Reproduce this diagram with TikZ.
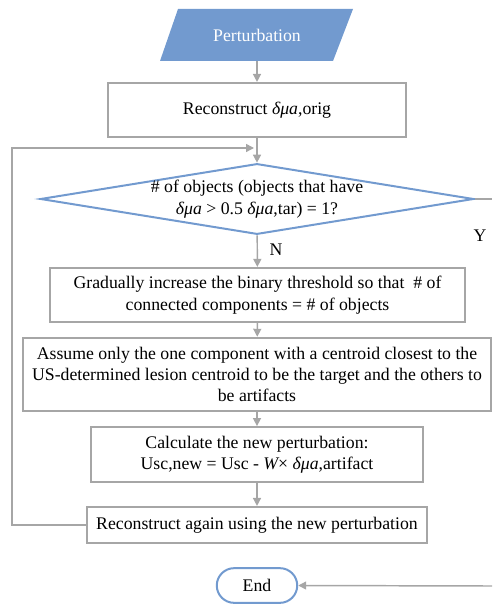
\documentclass[tikz,border=0pt]{standalone}
\usepackage{fontspec}
\setmainfont{Liberation Serif}
\usetikzlibrary{shapes.geometric,shapes.misc,arrows.meta}
\definecolor{boxgray}{HTML}{A6A6A6}
\definecolor{flowblue}{HTML}{729ACF}
\begin{document}
\begin{tikzpicture}[x=0.75pt,y=-0.75pt,
  font=\fontsize{13.3}{16}\selectfont,
  box/.style={draw=boxgray,line width=1.6pt,align=center,inner sep=2pt},
  decision/.style={diamond,aspect=6.1,draw=flowblue,line width=1.5pt,align=center,
    inner sep=-3pt,minimum width=325pt,minimum height=53pt},
  inbox/.style={text=white,minimum width=130pt,minimum height=39pt,inner sep=0pt},
  endbox/.style={rounded rectangle,draw=flowblue,line width=1.5pt,
    minimum width=67pt,minimum height=26pt},
  arr/.style={draw=boxgray,line width=1.1pt,-{Triangle[length=6pt,width=6pt]}},
  line/.style={draw=boxgray,line width=1.1pt},
  ]
\useasboundingbox (0,0) rectangle (492,605);
% input parallelogram
\fill[flowblue] (160,61) -- (178,9) -- (353,9) -- (333,61) -- cycle;
\node[inbox] (pert) at (257,35) {Perturbation};
\node[box,minimum width=223pt,minimum height=40.5pt] (rec) at (257,110)
  {Reconstruct {\itshape δμa},orig};
\node[decision] (obj) at (257,199)
  {\# of objects (objects that have\\ {\itshape δμa} > 0.5 {\itshape δμa},tar) = 1?};
\node[box,minimum width=311pt,minimum height=40.5pt] (thr) at (257.5,295)
  {Gradually increase the binary threshold so that \ \# of\\ connected components = \# of objects};
\node[box,minimum width=351pt,minimum height=55pt] (asm) at (257,374.5)
  {Assume only the one component with a centroid closest to the\\
   US-determined lesion centroid to be the target and the others to\\ be artifacts};
\node[box,minimum width=249pt,minimum height=41pt] (calc) at (257,454.5)
  {Calculate the new perturbation:\\ Usc,new = Usc - {\itshape W}× {\itshape δμa},artifact};
\node[box,minimum width=255pt,minimum height=27pt] (again) at (257,525)
  {Reconstruct again using the new perturbation};
\node[endbox] (end) at (257,585.5) {End};
\node (no) at (276,250) {N};
\node (yes) at (480,236) {Y};

\coordinate (loop) at (12,148);
\coordinate (merge) at (254,148);
\coordinate (yout) at (492,199);
\coordinate (yin) at (492,586);

\draw[arr] (pert) -- (rec);
\draw[arr] (rec) -- (obj);
\draw[arr] (obj) -- (thr);
\draw[arr] (thr) -- (asm);
\draw[arr] (asm) -- (calc);
\draw[arr] (calc) -- (again);
\draw[arr] (again.west) -| (loop) -- (merge);
\draw[line] (obj.east) -- (yout);
\draw[arr] (yin) -- (end.east);
\end{tikzpicture}
\end{document}
